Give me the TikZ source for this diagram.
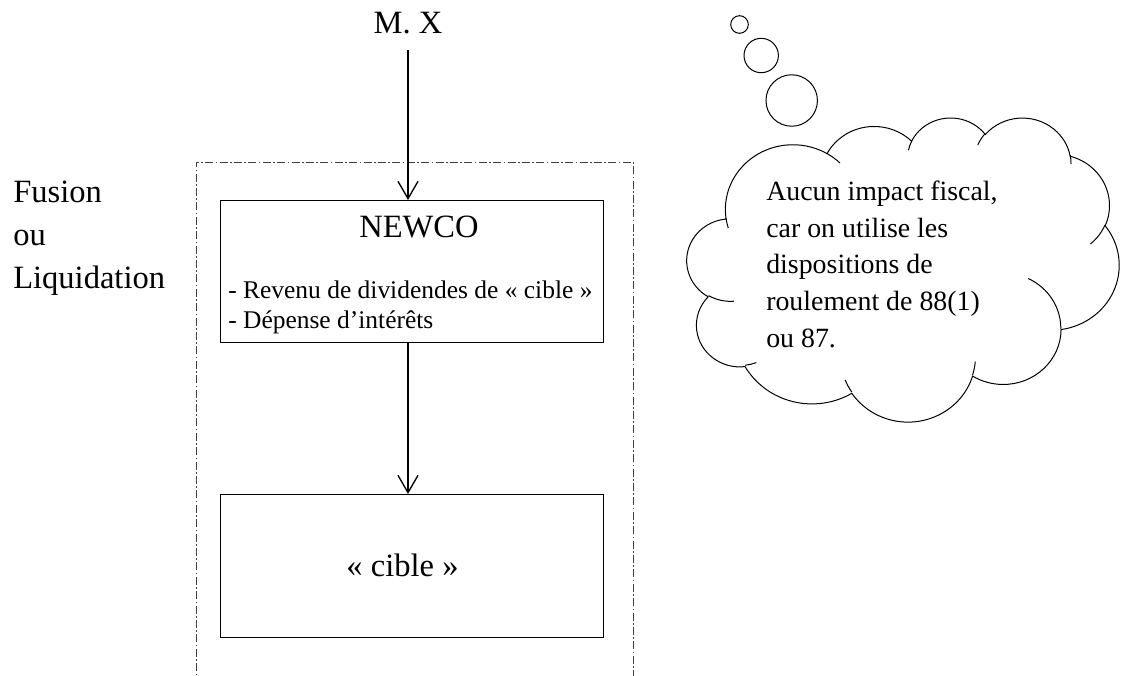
\documentclass[tikz,border=0pt]{standalone}
\usepackage{fontspec}
\setmainfont{Liberation Serif}
\usetikzlibrary{arrows.meta}

\begin{document}
\begin{tikzpicture}[
  x=0.75pt, y=-0.75pt,
  box/.style={draw=black, line width=0.75pt, minimum width=287.25pt, outer sep=0pt, inner sep=0pt},
  big/.style={font=\fontsize{24.4}{31.9}\selectfont, inner sep=0pt},
  small/.style={font=\fontsize{19.1}{22.5}\selectfont, inner sep=0pt},
  note/.style={font=\fontsize{20.9}{27.5}\selectfont, inner sep=0pt},
  arr/.style={-{Straight Barb[length=13pt, width=15pt]}, line width=1pt, draw=black},
  frame/.style={draw=black!75, line width=0.75pt, dash pattern=on 6pt off 1.8pt on 1.2pt off 1.8pt},
  thought/.style={draw=black, line width=0.75pt}
]
  \useasboundingbox (0,0) rectangle (1126,675);

  % Nodes (multi-line nodes sit on the baseline of their last line)
  \node[big, anchor=base, outer ysep=12.75pt] (mx) at (408,33) {M. X};
  \node[big, anchor=base west, align=left] (merge) at (13,288) {Fusion\\ou\\Liquidation};
  \node[box, minimum height=106.5pt] (newco) at (411.5,271) {};
  \node[big, anchor=base] (newconame) at (419,237) {NEWCO};
  \node[small, anchor=base west, align=left] (newcoitems) at (228,328)
    {- Revenu de dividendes de «~cible~»\\- Dépense d’intérêts};
  \node[box, minimum height=107.25pt] (cible) at (411.5,565.5) {};
  \node[big, anchor=base] (ciblename) at (402.5,576) {«~cible~»};
  \node[note, anchor=base west, align=left] (remark) at (766,347)
    {Aucun impact fiscal,\\car on utilise les\\dispositions de\\roulement de 88(1)\\ou 87.};

  % Frame
  \draw[frame] (196,700) |- (633,162) -- (633,700);

  % Paths
  \draw[arr] (mx.south) -- (mx.south |- newco.north);
  \draw[arr] (mx.south |- newco.south) -- (mx.south |- cible.north);

  % Cloud
  \draw[thought] (739.5,24.5) circle[radius=6.6pt];
  \draw[thought] (761.2,55.5) circle[radius=12.9pt];
  \draw[thought] (791.7,100.5) circle[radius=19.3pt];
  \begin{scope}[shift={(687,117)}, x=0.75pt, y=-0.5278pt]
    \draw[thought] (39.00,143.70)
      arc[x radius=67.53, y radius=91.90, start angle=172.25, end angle=300.36]
      arc[x radius=53.33, y radius=72.67, start angle=-152.02, end angle=-45.45]
      arc[x radius=43.65, y radius=59.45, start angle=-153.49, end angle=-37.32]
      arc[x radius=48.57, y radius=65.95, start angle=-139.72, end angle=-10.22]
      arc[x radius=53.33, y radius=72.73, start angle=-74.77, end angle=23.21]
      arc[x radius=67.75, y radius=92.20, start angle=-37.53, end angle=81.86]
      arc[x radius=57.85, y radius=78.67, start angle=0.46, end angle=121.98]
      arc[x radius=67.52, y radius=92.15, start angle=16.85, end angle=146.23]
      arc[x radius=77.20, y radius=105.43, start angle=58.98, end angle=150.19]
      arc[x radius=43.60, y radius=59.18, start angle=83.31, end angle=223.12]
      arc[x radius=43.45, y radius=59.45, start angle=120.36, end angle=264.11]
      -- cycle;
    \draw[thought] (46.93,261.77) arc[x radius=43.45, y radius=59.45, start angle=85.54, end angle=120.36];
    \draw[thought] (69.28,348.99) arc[x radius=43.60, y radius=59.18, start angle=68.24, end angle=83.31];
    \draw[thought] (164.78,390.90) arc[x radius=67.52, y radius=92.15, start angle=146.23, end angle=158.47];
    \draw[thought] (288.27,347.51) arc[x radius=67.52, y radius=92.15, start angle=4.74, end angle=16.85];
    \draw[thought] (341.29,229.54) arc[x radius=57.85, y radius=78.67, start angle=-64.03, end angle=0.46];
    \draw[thought] (417.98,153.54) arc[x radius=53.33, y radius=72.73, start angle=23.21, end angle=49.64];
    \draw[thought] (383.24,54.26) arc[x radius=48.57, y radius=65.95, start angle=-10.22, end angle=0.82];
    \draw[thought] (290.78,39.52) arc[x radius=48.57, y radius=65.95, start angle=-156.27, end angle=-139.72];
    \draw[thought] (221.41,47.20) arc[x radius=43.65, y radius=59.45, start angle=-167.72, end angle=-153.49];
    \draw[thought] (140.00,51.92) arc[x radius=67.53, y radius=91.90, start angle=-59.64, end angle=-45.76];
    \draw[thought] (41.27,157.89) arc[x radius=67.53, y radius=91.90, start angle=163.19, end angle=172.25];
  \end{scope}
\end{tikzpicture}
\end{document}
